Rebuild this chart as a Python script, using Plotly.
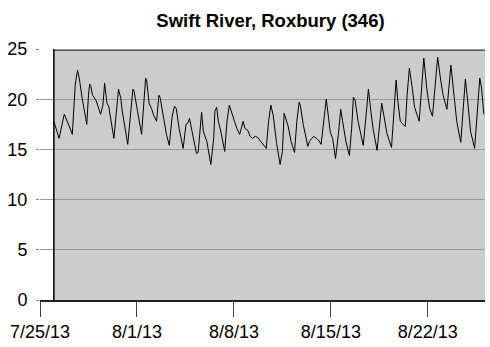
import plotly.graph_objects as go

FONT = "Liberation Sans, Arial, sans-serif"

# ── Data: water temperature ──────────────────────────────────────────────────
TIMES = [
    "2013-07-26 00:00", "2013-07-26 09:00", "2013-07-26 18:00", "2013-07-26 23:00",
    "2013-07-27 02:00", "2013-07-27 08:00", "2013-07-27 13:00", "2013-07-27 17:00",
    "2013-07-27 20:00", "2013-07-28 01:00", "2013-07-28 09:00", "2013-07-28 12:00",
    "2013-07-28 14:00", "2013-07-28 16:00", "2013-07-28 19:00", "2013-07-29 01:00",
    "2013-07-29 06:00", "2013-07-29 09:00", "2013-07-29 13:00", "2013-07-29 16:00",
    "2013-07-29 20:00", "2013-07-29 23:00", "2013-07-30 08:00", "2013-07-30 13:00",
    "2013-07-30 16:00", "2013-07-30 20:00", "2013-07-30 22:00", "2013-07-31 08:00",
    "2013-07-31 13:00", "2013-07-31 17:00", "2013-07-31 19:00", "2013-07-31 23:00",
    "2013-08-01 01:00", "2013-08-01 08:00", "2013-08-01 12:00", "2013-08-01 15:00",
    "2013-08-01 17:00", "2013-08-01 21:00", "2013-08-02 01:00", "2013-08-02 05:00",
    "2013-08-02 10:00", "2013-08-02 14:00", "2013-08-02 16:00", "2013-08-02 21:00",
    "2013-08-03 03:00", "2013-08-03 08:00", "2013-08-03 13:00", "2013-08-03 17:00",
    "2013-08-03 20:00", "2013-08-04 01:00", "2013-08-04 08:00", "2013-08-04 13:00",
    "2013-08-04 16:00", "2013-08-04 19:00", "2013-08-05 00:00", "2013-08-05 07:00",
    "2013-08-05 10:00", "2013-08-05 13:00", "2013-08-05 16:00", "2013-08-05 19:00",
    "2013-08-06 01:00", "2013-08-06 08:00", "2013-08-06 13:00", "2013-08-06 15:00",
    "2013-08-06 18:00", "2013-08-06 21:00", "2013-08-07 02:00", "2013-08-07 08:00",
    "2013-08-07 12:00", "2013-08-07 16:00", "2013-08-07 20:00", "2013-08-08 01:00",
    "2013-08-08 05:00", "2013-08-08 10:00", "2013-08-08 16:00", "2013-08-08 19:00",
    "2013-08-09 00:00", "2013-08-09 04:00", "2013-08-09 08:00", "2013-08-09 13:00",
    "2013-08-09 17:00", "2013-08-09 23:00", "2013-08-10 08:00", "2013-08-10 12:00",
    "2013-08-10 16:00", "2013-08-10 20:00", "2013-08-11 02:00", "2013-08-11 08:00",
    "2013-08-11 12:00", "2013-08-11 15:00", "2013-08-11 18:00", "2013-08-11 22:00",
    "2013-08-12 03:00", "2013-08-12 09:00", "2013-08-12 13:00", "2013-08-12 17:00",
    "2013-08-12 19:00", "2013-08-13 00:00", "2013-08-13 08:00", "2013-08-13 11:00",
    "2013-08-13 15:00", "2013-08-13 18:00", "2013-08-13 23:00", "2013-08-14 03:00",
    "2013-08-14 07:00", "2013-08-14 12:00", "2013-08-14 16:00", "2013-08-14 20:00",
    "2013-08-14 23:00", "2013-08-15 03:00", "2013-08-15 08:00", "2013-08-15 13:00",
    "2013-08-15 15:00", "2013-08-15 17:00", "2013-08-15 20:00", "2013-08-16 02:00",
    "2013-08-16 08:00", "2013-08-16 12:00", "2013-08-16 15:00", "2013-08-16 18:00",
    "2013-08-16 23:00", "2013-08-17 03:00", "2013-08-17 08:00", "2013-08-17 13:00",
    "2013-08-17 17:00", "2013-08-17 21:00", "2013-08-18 01:00", "2013-08-18 08:00",
    "2013-08-18 13:00", "2013-08-18 16:00", "2013-08-18 20:00", "2013-08-19 01:00",
    "2013-08-19 09:00", "2013-08-19 13:00", "2013-08-19 17:00", "2013-08-19 20:00",
    "2013-08-20 00:00", "2013-08-20 03:00", "2013-08-20 09:00", "2013-08-20 12:00",
    "2013-08-20 16:00", "2013-08-20 21:00", "2013-08-21 01:00", "2013-08-21 09:00",
    "2013-08-21 13:00", "2013-08-21 17:00", "2013-08-21 22:00", "2013-08-22 03:00",
    "2013-08-22 08:00", "2013-08-22 13:00", "2013-08-22 17:00", "2013-08-22 21:00",
    "2013-08-23 02:00", "2013-08-23 09:00", "2013-08-23 12:00", "2013-08-23 16:00",
    "2013-08-23 20:00", "2013-08-24 02:00", "2013-08-24 09:00", "2013-08-24 13:00",
    "2013-08-24 17:00", "2013-08-24 20:00", "2013-08-25 02:00", "2013-08-25 09:00",
    "2013-08-25 14:00", "2013-08-25 18:00", "2013-08-25 21:00", "2013-08-26 01:00",
]

TEMPS = [
    17.8, 16.1, 18.5, 17.7, 17.4, 16.5, 21.4, 22.9,
    22.1, 20.1, 17.5, 20.4, 21.5, 21.3, 20.4, 19.9,
    19.1, 18.5, 19.4, 21.6, 19.6, 19.3, 16.1, 19.4,
    21.0, 20.1, 19.0, 15.5, 18.4, 21.0, 20.8, 19.3,
    18.8, 16.5, 20.1, 22.1, 21.8, 19.6, 19.1, 18.4,
    17.8, 20.4, 20.2, 18.4, 16.5, 15.4, 18.3, 19.3,
    19.1, 17.1, 15.1, 17.5, 17.6, 18.1, 16.5, 14.6,
    14.7, 16.8, 18.7, 16.8, 15.8, 13.5, 16.1, 18.8,
    19.2, 17.8, 16.6, 14.8, 17.8, 19.4, 18.6, 17.8,
    17.1, 16.5, 17.8, 17.1, 16.9, 16.3, 16.1, 16.3,
    16.2, 15.8, 15.1, 17.8, 19.4, 18.4, 15.6, 13.5,
    14.8, 18.6, 18.1, 17.3, 15.8, 14.7, 17.8, 19.7,
    19.4, 17.5, 15.3, 15.8, 16.1, 16.3, 16.1, 15.9,
    15.5, 17.8, 20.0, 18.1, 16.7, 16.1, 14.1, 16.5,
    18.3, 19.0, 17.9, 15.8, 14.4, 17.1, 20.2, 19.9,
    17.8, 16.8, 15.4, 18.4, 21.0, 18.9, 17.1, 14.9,
    17.8, 19.6, 18.3, 16.6, 15.2, 19.1, 21.9, 19.8,
    17.9, 17.6, 17.3, 20.4, 23.1, 21.1, 19.2, 17.8,
    20.8, 24.1, 21.1, 19.1, 18.3, 21.8, 24.2, 22.4,
    20.5, 19.0, 21.1, 23.4, 21.1, 17.8, 15.7, 19.4,
    22.0, 20.4, 16.8, 15.1, 19.4, 22.1, 21.1, 18.5,
]

X_START = "2013-07-25"
X_END = "2013-08-26 03:00"
TICK_DATES = ["2013-07-25", "2013-08-01", "2013-08-08", "2013-08-15", "2013-08-22"]
TICK_TEXT = ["7/25/13", "8/1/13", "8/8/13", "8/15/13", "8/22/13"]
Y_TICKS = [0, 5, 10, 15, 20, 25]

fig = go.Figure()

fig.add_trace(go.Scatter(
    x=TIMES, y=TEMPS,
    mode="lines",
    line=dict(color="#000000", width=1),
    showlegend=False,
))

# gray data panel with dark left/top edges
fig.add_shape(type="rect", xref="x", yref="y",
              x0=TIMES[0], x1=X_END, y0=0, y1=25,
              fillcolor="#cccccc", line=dict(width=0), layer="below")
fig.add_shape(type="line", xref="x", yref="y",
              x0=TIMES[0], x1=TIMES[0], y0=0, y1=25,
              line=dict(color="#000000", width=1.5))
fig.add_shape(type="line", xref="x", yref="y",
              x0=TIMES[0], x1=X_END, y0=24.88, y1=24.88,
              line=dict(color="#222222", width=1))

fig.update_layout(
    width=490, height=347,
    margin=dict(l=40, r=5, t=49, b=47, autoexpand=False),
    paper_bgcolor="white",
    plot_bgcolor="white",
    font=dict(family=FONT, size=18, color="#000"),
    title=dict(
        text="<b>Swift River, Roxbury (346)</b>",
        font=dict(family=FONT, size=18.5, color="#000"),
        x=0.552, xanchor="center", y=0.942, yanchor="middle",
    ),
    xaxis=dict(
        type="date",
        range=[X_START, X_END],
        tickvals=TICK_DATES,
        ticktext=TICK_TEXT,
        ticks="outside", ticklen=15, tickcolor="#444", tickwidth=1,
        showline=True, linecolor="#222", linewidth=1.5,
        showgrid=False, zeroline=False,
        tickfont=dict(size=18),
        automargin=False,
    ),
    yaxis=dict(
        range=[0, 25],
        tickvals=Y_TICKS,
        ticks="outside", ticklen=3, tickcolor="#888",
        showline=False,
        showgrid=True, gridcolor="#9a9a9a", gridwidth=1,
        zeroline=False,
        tickfont=dict(size=18),
        ticklabelstandoff=5,
        automargin=False,
    ),
)

fig.write_html("out.html", config={"displayModeBar": False},
               post_script="document.body.style.margin='0';")
